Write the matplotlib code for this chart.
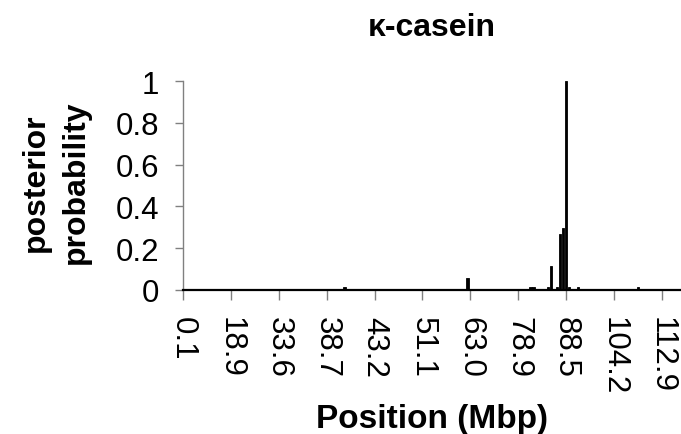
import matplotlib
matplotlib.use('Agg')
import matplotlib.pyplot as plt
import numpy as np

plt.rcParams['font.family'] = ['Liberation Sans', 'DejaVu Sans']

# category axis: one slot per marker position, labels every 16th slot
N_CATEGORIES = 167
LABEL_EVERY = 16
tick_labels = ['0.1', '18.9', '33.6', '38.7', '43.2', '51.1', '63.0',
               '78.9', '88.5', '104.2', '112.9']

# non-zero posterior probabilities (slot index -> value)
bar_index = [54, 95, 116, 117, 122, 123, 125, 126, 127, 128, 129, 132, 152]
bar_value = [0.015, 0.057, 0.015, 0.015, 0.015, 0.113, 0.015, 0.268,
             0.295, 1.0, 0.015, 0.015, 0.015]

y_ticks = [0, 0.2, 0.4, 0.6, 0.8, 1]
y_tick_labels = ['0', '0.2', '0.4', '0.6', '0.8', '1']

fig = plt.figure(figsize=(6.81, 4.35), dpi=100)
ax = fig.add_axes([183 / 681, 1 - 291 / 435, 1 - 183 / 681, (291 - 82) / 435])

ax.bar(bar_index, bar_value, width=0.9, color='black', edgecolor='black',
       linewidth=0.6, zorder=3)

ax.set_xlim(0, N_CATEGORIES - 0.6)
ax.set_ylim(0, 1)

ax.set_xticks(np.arange(0, LABEL_EVERY * len(tick_labels), LABEL_EVERY))
ax.set_xticklabels(tick_labels, rotation=-90, fontsize=22.5)
ax.set_yticks(y_ticks)
ax.set_yticklabels(y_tick_labels, fontsize=22.5)

ax.tick_params(axis='x', direction='out', length=7, width=1, color='#808080', pad=12)
ax.tick_params(axis='y', direction='out', length=6, width=1, color='#808080', pad=11)

for side in ['top', 'right']:
    ax.spines[side].set_visible(False)
ax.spines['left'].set_color('#808080')
ax.spines['left'].set_linewidth(1)
ax.spines['bottom'].set_color('black')
ax.spines['bottom'].set_linewidth(1.6)
ax.spines['bottom'].set_zorder(4)

ax.set_title('κ-casein', fontsize=23, fontweight='bold', pad=33)
ax.set_xlabel('Position (Mbp)', fontsize=24, fontweight='bold', labelpad=6)
ax.set_ylabel('posterior\nprobability', fontsize=23, fontweight='bold',
              linespacing=1.45)
ax.yaxis.set_label_coords(-0.184, 0.52)

fig.savefig('out.png', dpi=100)
